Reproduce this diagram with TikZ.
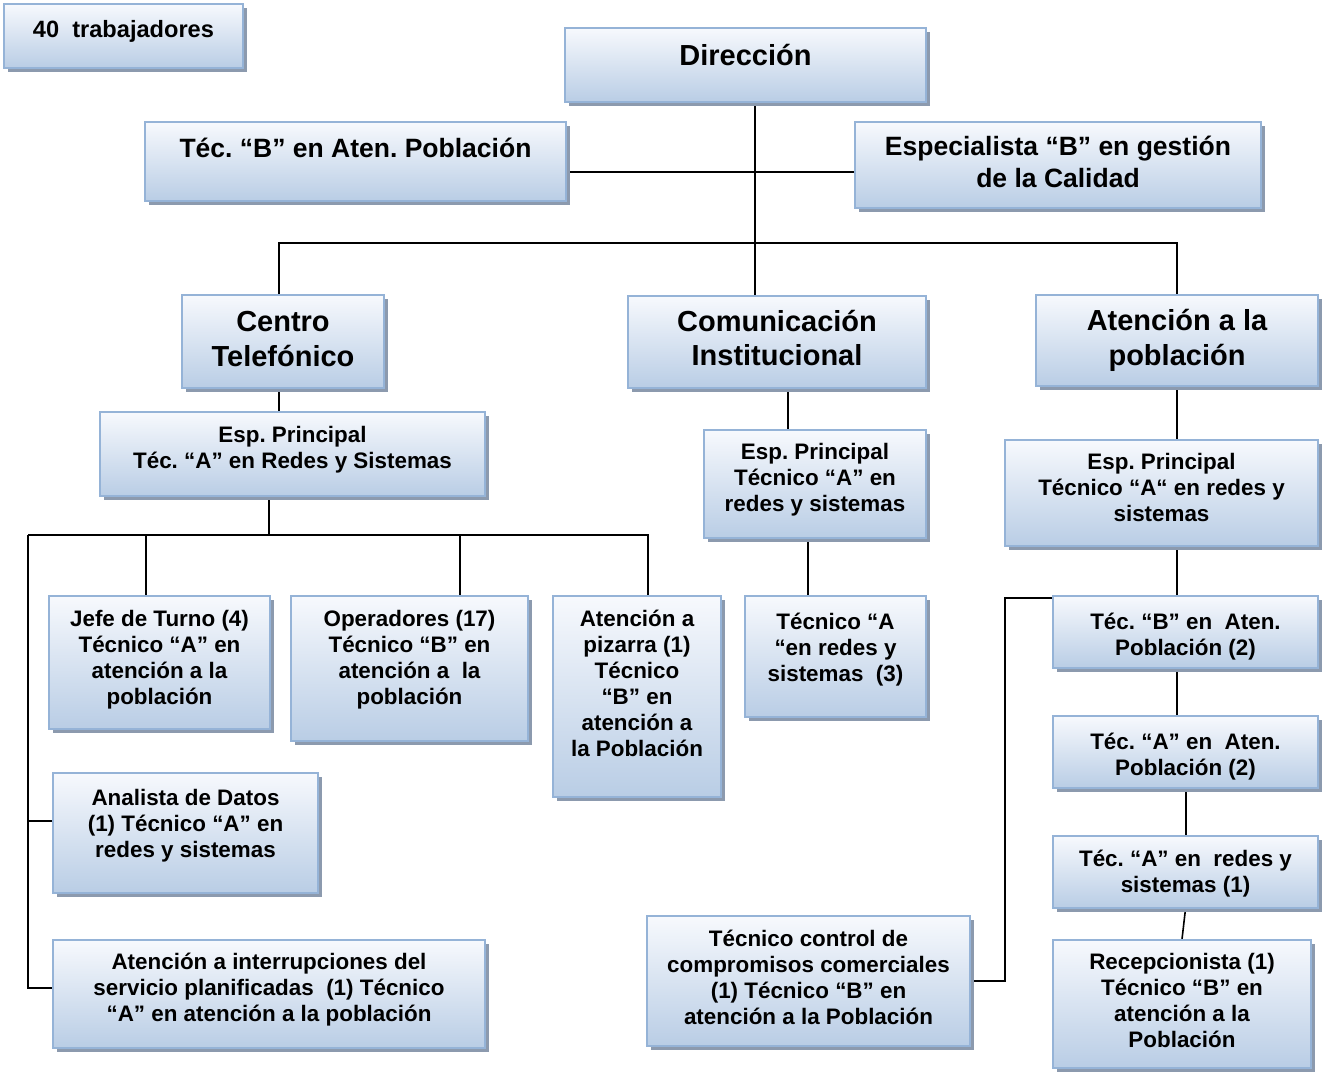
\documentclass[tikz,border=0pt]{standalone}
\usepackage{fontspec}
\setmainfont{Liberation Sans}
\frenchspacing
\usetikzlibrary{shadows}
\pgfdeclarelayer{bg}
\pgfsetlayers{bg,main}
\definecolor{boxtop}{HTML}{F7F9FD}
\definecolor{boxbot}{HTML}{B9CDE5}
\definecolor{boxline}{HTML}{95B3D7}
\definecolor{shadowc}{HTML}{8C9AAE}
\tikzset{
    box/.style={rectangle, draw=boxline, line width=1.6pt, top color=boxtop,
    	bottom color=boxbot, align=center, inner sep=2pt,
    	drop shadow={shadow xshift=4pt, shadow yshift=-4pt, fill=shadowc, opacity=1},
    	font=\bfseries\fontsize{22.4}{26}\selectfont},
    big/.style={font=\bfseries\fontsize{29}{34.5}\selectfont},
    mid/.style={font=\bfseries\fontsize{26.5}{32}\selectfont},
    sz/.style 2 args={minimum width=#1pt, minimum height=#2pt},
    th/.style={text height=#1pt},
    link/.style={line width=1.6pt, black}
}

\begin{document}
\begin{tikzpicture}[x=1pt, y=-1pt]
  \useasboundingbox (0,0) rectangle (1325,1074);

  \node (trab) [box, sz={239}{64}, th=7.2, font=\bfseries\fontsize{23.6}{28}\selectfont] at (123.5,36) {40\ \ trabajadores};
  \node (dir) [box, big, sz={361}{74}, th=1.5] at (745.5,65) {Dirección};
  \node (tecb) [box, mid, sz={421}{79}, th=0, text depth=8pt] at (355.5,161.5) {Téc. “B” en Aten. Población};
  \node (espb) [box, mid, sz={406}{86}, th=45.6] at (1058,165) {Especialista “B” en gestión\\de la Calidad};

  \node (centro) [box, big, sz={202}{93}, th=50] at (283,341.5) {Centro\\Telefónico};
  \node (comun) [box, big, sz={298}{92}, th=48] at (777,342) {Comunicación\\Institucional};
  \node (atenc) [box, big, sz={282}{91}] at (1177,340.5) {Atención a la\\población};

  \node (espct) [box, sz={385}{84}, th=34.6] at (292.5,454) {Esp. Principal\\Téc. “A” en Redes y Sistemas};
  \node (espci) [box, sz={222}{108}, th=60.6] at (815,484) {Esp. Principal\\Técnico “A” en\\redes y sistemas};
  \node (espap) [box, sz={313}{106}, th=56.6] at (1161.5,493) {Esp. Principal\\Técnico “A“ en redes y\\sistemas};

  \node (jefe) [box, sz={221}{133}, th=88.6] at (159.5,662.5) {Jefe de Turno (4)\\Técnico “A” en\\atención a la\\población};
  \node (oper) [box, sz={237}{145}, th=76.6] at (409.5,668.5) {Operadores (17)\\Técnico “B” en\\atención a\ \ la\\población};
  \node (piz) [box, sz={168}{201}, th=120.6] at (637,696.5) {Atención a\\pizarra (1)\\Técnico\\“B” en\\atención a\\la Población};
  \node (tecr3) [box, sz={181}{121}, th=54.6] at (835.5,656.5) {Técnico “A\\“en redes y\\sistemas\ \ (3)};
  \node (anal) [box, sz={265}{120}, th=54.6] at (185.5,833) {Analista de Datos\\(1) Técnico “A” en\\redes y sistemas};
  \node (inter) [box, sz={432}{108}, th=60.6] at (269,994) {Atención a interrupciones del\\servicio planificadas\ \ (1) Técnico\\“A” en atención a la población};
  \node (tcc) [box, sz={323}{130}, th=86.6] at (808.5,981) {Técnico control de\\compromisos comerciales\\(1) Técnico “B” en\\atención a la Población};

  \node (tecb2) [box, sz={265}{72}, th=52.6] at (1185.5,632) {Téc. “B” en\ \ Aten.\\Población (2)};
  \node (teca2) [box, sz={265}{72}, th=52.6] at (1185.5,752) {Téc. “A” en\ \ Aten.\\Población (2)};
  \node (tecar1) [box, sz={265}{72}, th=46.6] at (1185.5,872) {Téc. “A” en\ \ redes y\\sistemas (1)};
  \node (recep) [box, sz={258}{128}, th=86.6] at (1182,1004) {Recepcionista (1)\\Técnico “B” en\\atención a la\\Población};

  % joints of the lines
  \coordinate (d1) at (755,172);
  \coordinate (d2) at (755,243);
  \coordinate (b1) at (279,243);
  \coordinate (b2) at (1177,243);
  \coordinate (c0) at (269,535);
  \coordinate (c1) at (28,535);
  \coordinate (c2) at (146,535);
  \coordinate (c3) at (460,535);
  \coordinate (c4) at (648,535);
  \coordinate (s1) at (28,821);
  \coordinate (s2) at (28,988);
  \coordinate (m1) at (788,410);
  \coordinate (m2) at (808,560);
  \coordinate (r1) at (1186,800);
  \coordinate (f1) at (1005,598);

  \begin{pgfonlayer}{bg}
  \draw [link] (dir.south -| d1) -- (comun.north -| d1);
  \draw [link] (tecb.east |- d1) -- (espb.west |- d1);
  \draw [link] (centro.north -| b1) -- (b1) -- (b2) -- (atenc.north -| b2);
  \draw [link] (centro.south -| b1) -- (espct.north -| b1);
  \draw [link] (espct.south -| c0) -- (c0);
  \draw [link] (c1) -- (c4) -- (piz.north -| c4);
  \draw [link] (c2) -- (jefe.north -| c2);
  \draw [link] (c3) -- (oper.north -| c3);
  \draw [link] (c1) -- (s2) -- (inter.west |- s2);
  \draw [link] (s1) -- (anal.west |- s1);
  \draw [link] (comun.south -| m1) -- (espci.north -| m1);
  \draw [link] (espci.south -| m2) -- (tecr3.north -| m2);
  \draw [link] (atenc.south -| b2) -- (espap.north -| b2);
  \draw [link] (espap.south -| b2) -- (tecb2.north -| b2);
  \draw [link] (tecb2.south -| b2) -- (teca2.north -| b2);
  \draw [link] (teca2.south -| r1) -- (tecar1.north -| r1);
  \draw [link] (tecar1.south) -- (recep.north);
  \draw [link] (tcc.east) -| (f1) -- (tecb2.west |- f1);
  \end{pgfonlayer}
\end{tikzpicture}
\end{document}
